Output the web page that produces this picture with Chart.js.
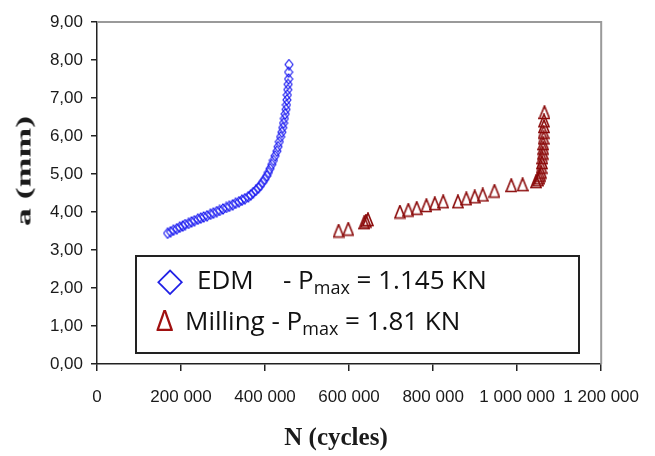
<!DOCTYPE html>
<html>
<head>
<meta charset="utf-8">
<script src="https://cdn.jsdelivr.net/npm/chart.js@4.4.1/dist/chart.umd.min.js"></script>
<style>
  body { margin: 0; background: #fff; }
  #wrap { position: relative; width: 655px; height: 456px; }
  .abs { position: absolute; white-space: nowrap; color: #111; }
  .axis-title { font-family: 'Liberation Serif', 'Times New Roman', serif; font-weight: bold; color: #1a1a1a; }
  #legend-box { position: absolute; left: 135px; top: 255px; width: 441px; height: 95px; border: 2px solid #222; }
  .leg { font-family: 'Open Sans', 'Noto Sans', sans-serif; font-size: 26px; line-height: 1; }
  .leg sub { font-size: 18px; vertical-align: -5px; line-height: 0; }
</style>
</head>
<body>
<div id="wrap">
  <canvas id="chart" width="655" height="456"></canvas>
  <div class="abs axis-title" style="left:24px; top:171px; font-size:21px; transform: translate(-50%,-50%) rotate(-90deg) scaleX(1.7);">a (mm)</div>
  <div class="abs axis-title" style="left:336px; top:437px; font-size:25px; transform: translate(-50%,-50%);">N (cycles)</div>
  <div id="legend-box"></div>
  <div class="abs leg" style="left:157px; top:262px; color:#1f1fe6; font-family:'DejaVu Sans'; font-size:34px;">◇</div>
  <div class="abs leg" style="left:197px; top:266px;">EDM</div>
  <div class="abs leg" style="left:283px; top:266px;">- P<sub>max</sub> = 1.145 KN</div>
  <div class="abs leg" style="left:156px; top:305px; color:#a01010; font-size:30px;">Δ</div>
  <div class="abs leg" style="left:185px; top:307px;">Milling - P<sub>max</sub> = 1.81 KN</div>
</div>
<script>
// EDM specimen: crack length a (mm) vs cycles N
const edmN = [168000, 175000, 182000, 190000, 197000, 204000, 210000, 218000, 225000, 232000,
  240000, 247000, 254000, 262000, 270000, 277000, 285000, 292000, 300000, 308000,
  315000, 323000, 330000, 338000, 345000, 352000, 360000, 366000, 372000, 378000,
  384000, 389000, 394000, 399000, 404000, 408000, 412000, 416000, 420000, 424000,
  428000, 431000, 434000, 437000, 440000, 442000, 444000, 446000, 448000, 450000,
  451000, 452000, 453000, 454000, 455000, 456000, 456000, 457000];
const edmA = [3.44, 3.48, 3.52, 3.56, 3.60, 3.63, 3.67, 3.70, 3.74, 3.77,
  3.81, 3.84, 3.87, 3.90, 3.94, 3.97, 4.01, 4.04, 4.08, 4.12,
  4.15, 4.19, 4.23, 4.27, 4.31, 4.35, 4.40, 4.45, 4.51, 4.57,
  4.63, 4.70, 4.78, 4.86, 4.95, 5.04, 5.14, 5.25, 5.36, 5.48,
  5.60, 5.72, 5.85, 5.98, 6.10, 6.22, 6.34, 6.46, 6.58, 6.70,
  6.82, 6.95, 7.08, 7.22, 7.36, 7.50, 7.68, 7.88];

// Milling specimen
const millN = [575000, 598000, 636000, 640000, 645000, 721000, 741000, 761000, 784000, 804000,
  824000, 859000, 879000, 899000, 918000, 946000, 986000, 1013000, 1045000, 1050000,
  1053000, 1055000, 1057000, 1058000, 1059000, 1060000, 1061000, 1062000, 1062000, 1063000,
  1063000, 1064000, 1064000, 1065000];
const millA = [3.50, 3.55, 3.72, 3.76, 3.80, 4.00, 4.05, 4.10, 4.17, 4.22,
  4.27, 4.27, 4.35, 4.40, 4.45, 4.55, 4.70, 4.72, 4.80, 4.85,
  4.90, 4.97, 5.05, 5.18, 5.30, 5.43, 5.55, 5.68, 5.80, 5.95,
  6.10, 6.25, 6.40, 6.62];

const X_MIN = 0, X_MAX = 1200000, X_STEP = 200000;
const Y_MIN = 0, Y_MAX = 9, Y_STEP = 1;

function toPoints(xs, ys) {
  return xs.map((x, i) => ({ x: x, y: ys[i] }));
}

// narrow hollow markers, like the original
function makeDiamond(w, h, color) {
  const c = document.createElement('canvas');
  c.width = w + 2; c.height = h + 2;
  const g = c.getContext('2d');
  g.strokeStyle = color; g.lineWidth = 1.1;
  g.beginPath();
  g.moveTo(c.width / 2, 1);
  g.lineTo(c.width - 1, c.height / 2);
  g.lineTo(c.width / 2, c.height - 1);
  g.lineTo(1, c.height / 2);
  g.closePath();
  g.stroke();
  return c;
}

function makeTriangle(w, h, color) {
  const c = document.createElement('canvas');
  c.width = w + 2; c.height = h + 2;
  const g = c.getContext('2d');
  g.strokeStyle = color; g.lineWidth = 1.6;
  g.beginPath();
  g.moveTo(c.width / 2, 1);
  g.lineTo(c.width - 1, c.height - 1.5);
  g.lineTo(1, c.height - 1.5);
  g.closePath();
  g.stroke();
  return c;
}

// gray frame on top and right of plot area
const frame = {
  id: 'frame',
  beforeDatasetsDraw(chart) {
    const a = chart.chartArea, ctx = chart.ctx;
    ctx.save();
    ctx.strokeStyle = '#9a9a9a';
    ctx.lineWidth = 2;
    ctx.beginPath();
    ctx.moveTo(a.left, a.top);
    ctx.lineTo(a.right, a.top);
    ctx.lineTo(a.right, a.bottom);
    ctx.stroke();
    ctx.restore();
  }
};

const tickFont = { family: "'Liberation Sans', Arial, sans-serif", size: 17 };

new Chart(document.getElementById('chart'), {
  type: 'scatter',
  data: {
    datasets: [
      {
        label: 'EDM',
        data: toPoints(edmN, edmA),
        pointStyle: makeDiamond(8, 10, '#1414f0'),
        pointRadius: 5
      },
      {
        label: 'Milling',
        data: toPoints(millN, millA),
        pointStyle: makeTriangle(10, 13, '#8b0a0a'),
        pointRadius: 6
      }
    ]
  },
  options: {
    responsive: false,
    devicePixelRatio: 1,
    animation: false,
    layout: { padding: { left: 0, top: 22, right: 51, bottom: 0 } },
    plugins: { legend: { display: false }, tooltip: { enabled: false } },
    scales: {
      x: {
        type: 'linear',
        min: X_MIN, max: X_MAX,
        afterFit: s => { s.height = 92; },
        grid: { drawOnChartArea: false, drawTicks: true, tickLength: 7, color: '#222', lineWidth: 1.5 },
        border: { color: '#222', width: 1.5 },
        ticks: {
          stepSize: X_STEP,
          autoSkip: false,
          maxRotation: 0,
          padding: 16,
          color: '#1a1a1a',
          font: tickFont,
          callback: v => String(v).replace(/\B(?=(\d{3})+(?!\d))/g, ' ')
        }
      },
      y: {
        min: Y_MIN, max: Y_MAX,
        afterFit: s => { s.width = 97; },
        grid: { drawOnChartArea: false, drawTicks: true, tickLength: 6, color: '#222', lineWidth: 1.5 },
        border: { color: '#222', width: 1.5 },
        ticks: {
          stepSize: Y_STEP,
          padding: 8,
          color: '#1a1a1a',
          font: tickFont,
          callback: v => v.toFixed(2).replace('.', ',')
        }
      }
    }
  },
  plugins: [frame]
});
</script>
</body>
</html>
